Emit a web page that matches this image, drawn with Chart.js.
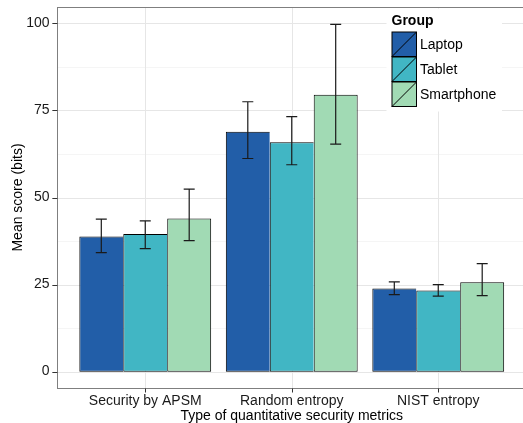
<!DOCTYPE html>
<html>
<head>
<meta charset="utf-8">
<script src="https://cdn.jsdelivr.net/npm/chart.js@4/dist/chart.umd.min.js"></script>
<style>
  html, body { margin: 0; padding: 0; background: #fff; overflow: hidden; }
  #wrap { width: 523px; height: 423px; position: relative; }
</style>
</head>
<body>
<div id="wrap"><canvas id="chart"></canvas></div>
<script>
// data
const categories = ['Security by APSM', 'Random entropy', 'NIST entropy'];
const groups = ['Laptop', 'Tablet', 'Smartphone'];
const laptopMean = [38.8, 68.9, 23.9];
const tabletMean = [39.5, 65.9, 23.3];
const smartphoneMean = [44.0, 79.5, 25.7];
const laptopLow = [34.2, 61.2, 22.1];
const laptopHigh = [43.8, 77.5, 25.8];
const tabletLow = [35.3, 59.4, 21.7];
const tabletHigh = [43.3, 73.2, 25.0];
const smartphoneLow = [37.6, 65.3, 21.8];
const smartphoneHigh = [52.4, 99.7, 31.0];
const yTicks = [0, 25, 50, 75, 100];
const yMinor = [12.5, 37.5, 62.5, 87.5];

const colors = ['#225ea8', '#41b6c4', '#a1dab4'];
const means = [laptopMean, tabletMean, smartphoneMean];
const lows = [laptopLow, tabletLow, smartphoneLow];
const highs = [laptopHigh, tabletHigh, smartphoneHigh];
const FONT = '"Liberation Sans", Arial, Helvetica, sans-serif';

// ggplot style panel: extends 0.1 category beyond chart area each side
const panelPlugin = {
  id: 'panel',
  beforeDatasetsDraw(chart) {
    const { ctx, chartArea, scales } = chart;
    const x = scales.x, y = scales.y;
    const step = chartArea.width / categories.length;
    const left = chartArea.left - step * 0.1;
    const right = chartArea.right + step * 0.1;
    ctx.save();
    ctx.fillStyle = '#fff';
    ctx.fillRect(left, chartArea.top, right - left, chartArea.bottom - chartArea.top);
    ctx.lineWidth = 1;
    ctx.strokeStyle = '#f5f5f5';
    yMinor.forEach(v => {
      const py = Math.round(y.getPixelForValue(v)) + 0.5;
      ctx.beginPath(); ctx.moveTo(left, py); ctx.lineTo(right, py); ctx.stroke();
    });
    ctx.strokeStyle = '#e6e6e6';
    yTicks.forEach(v => {
      const py = Math.round(y.getPixelForValue(v)) + 0.5;
      ctx.beginPath(); ctx.moveTo(left, py); ctx.lineTo(right, py); ctx.stroke();
    });
    categories.forEach((c, i) => {
      const px = Math.round(x.getPixelForValue(i)) + 0.5;
      ctx.beginPath(); ctx.moveTo(px, chartArea.top); ctx.lineTo(px, chartArea.bottom); ctx.stroke();
    });
    ctx.restore();
  },
  afterDatasetsDraw(chart) {
    const { ctx, chartArea, scales } = chart;
    const x = scales.x, y = scales.y;
    const step = chartArea.width / categories.length;
    const left = chartArea.left - step * 0.1;
    const right = chartArea.right + step * 0.1;
    ctx.save();

    // error bars
    ctx.strokeStyle = '#1a1a1a';
    ctx.lineWidth = 1.2;
    chart.data.datasets.forEach((ds, di) => {
      const meta = chart.getDatasetMeta(di);
      meta.data.forEach((bar, i) => {
        const cx = bar.x;
        const yl = y.getPixelForValue(lows[di][i]);
        const yh = y.getPixelForValue(highs[di][i]);
        const cap = 5.5;
        ctx.beginPath();
        ctx.moveTo(cx, yl); ctx.lineTo(cx, yh);
        ctx.moveTo(cx - cap, yh); ctx.lineTo(cx + cap, yh);
        ctx.moveTo(cx - cap, yl); ctx.lineTo(cx + cap, yl);
        ctx.stroke();
      });
    });

    // panel border
    ctx.strokeStyle = '#7f7f7f';
    ctx.lineWidth = 1;
    ctx.strokeRect(Math.round(left) + 0.5, Math.round(chartArea.top) + 0.5,
      right - left, Math.round(chartArea.bottom - chartArea.top));

    // tick marks
    ctx.strokeStyle = '#333';
    yTicks.forEach(v => {
      const py = Math.round(y.getPixelForValue(v)) + 0.5;
      ctx.beginPath(); ctx.moveTo(left - 5, py); ctx.lineTo(left, py); ctx.stroke();
    });
    categories.forEach((c, i) => {
      const px = Math.round(x.getPixelForValue(i)) + 0.5;
      ctx.beginPath(); ctx.moveTo(px, chartArea.bottom + 0.5); ctx.lineTo(px, chartArea.bottom + 4.5); ctx.stroke();
    });

    // legend
    ctx.fillStyle = '#fff';
    ctx.fillRect(386.5, 8.5, 115.5, 103);
    ctx.fillStyle = '#000';
    ctx.textBaseline = 'middle';
    ctx.textAlign = 'left';
    ctx.font = 'bold 14px ' + FONT;
    ctx.fillText('Group', 391.5, 21.5);
    ctx.font = '14px ' + FONT;
    chart.data.datasets.forEach((ds, i) => {
      const kx = 392, ky = 32 + i * 25, ks = 24.5;
      ctx.fillStyle = ds.backgroundColor;
      ctx.fillRect(kx, ky, ks, ks);
      ctx.strokeStyle = '#000';
      ctx.lineWidth = 1;
      ctx.strokeRect(kx, ky, ks, ks);
      ctx.beginPath(); ctx.moveTo(kx, ky + ks); ctx.lineTo(kx + ks, ky); ctx.stroke();
      ctx.fillStyle = '#000';
      ctx.fillText(ds.label, 420, ky + ks / 2 + 0.5);
    });
    ctx.restore();
  }
};

const datasets = groups.map((g, i) => ({
  label: g,
  data: means[i],
  backgroundColor: colors[i],
  borderColor: '#000',
  borderWidth: { top: 1, bottom: 1, left: 1, right: i === groups.length - 1 ? 1 : 0 },
  borderSkipped: false,
  categoryPercentage: 0.9,
  barPercentage: 1.0
}));

new Chart(document.getElementById('chart'), {
  type: 'bar',
  data: { labels: categories, datasets },
  options: {
    responsive: true,
    maintainAspectRatio: false,
    animation: false,
    layout: { padding: { top: 7, right: 11.5, bottom: 0, left: 0 } },
    plugins: { legend: { display: false }, tooltip: { enabled: false } },
    scales: {
      x: {
        offset: true,
        grid: { display: false, drawTicks: false },
        border: { display: false },
        ticks: { color: '#1a1a1a', padding: 5, font: { family: FONT, size: 14 }, maxRotation: 0 },
        title: {
          display: true, text: 'Type of quantitative security metrics', color: '#000',
          font: { family: FONT, size: 14, lineHeight: 1 }, padding: { top: 0, bottom: 0 }
        },
        afterFit(scale) {
          scale.height = 35;
          scale.paddingLeft = 0;
          scale.paddingRight = 0;
        }
      },
      y: {
        min: -4.7,
        max: 104.7,
        grid: { display: false, drawTicks: false },
        border: { display: false },
        afterBuildTicks(scale) { scale.ticks = yTicks.map(v => ({ value: v })); },
        ticks: { color: '#1a1a1a', padding: 22.5, font: { family: FONT, size: 14 } },
        title: {
          display: true, text: 'Mean score (bits)', color: '#000',
          font: { family: FONT, size: 14, lineHeight: 1 }, padding: { top: 11, bottom: 0 }
        },
        afterFit(scale) {
          scale.width = 72;
          scale.paddingTop = 0;
          scale.paddingBottom = 0;
        }
      }
    }
  },
  plugins: [panelPlugin]
});
</script>
</body>
</html>
